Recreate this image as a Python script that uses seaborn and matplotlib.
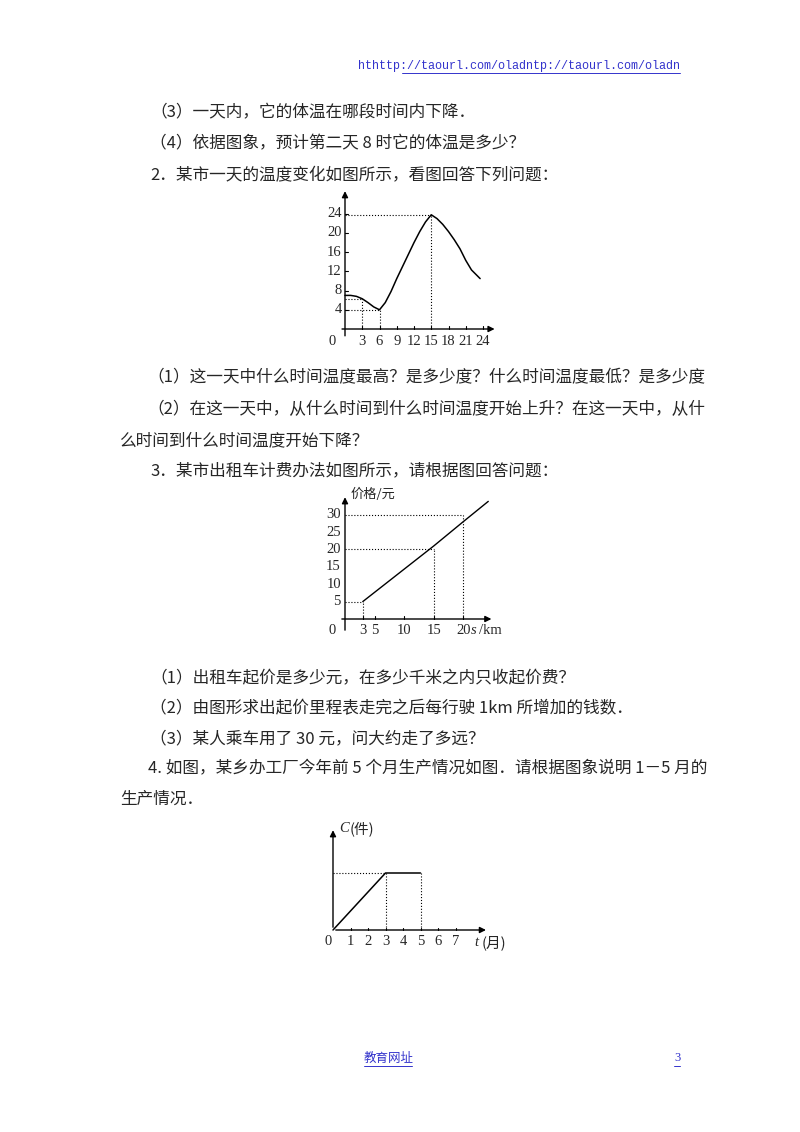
import matplotlib
matplotlib.use("Agg")
import matplotlib.pyplot as plt
import seaborn as sns
import pandas as pd
from matplotlib.lines import Line2D

# --- chart data ---
temp_hours = [0, 1, 2, 3, 4, 5, 6, 7, 8, 9, 10, 11, 12, 13, 14, 15, 16, 17, 18, 19, 20, 21, 22, 23.5]
temp_values = [7, 7, 6.8, 6.3, 5.5, 4.6, 4.0, 5.5, 7.8, 10.5, 13, 15.5, 18, 20.3, 22.3, 23.8,
               23, 21.8, 20.3, 18.6, 16.7, 14.3, 12.3, 10.5]
temp_xticks = [3, 6, 9, 12, 15, 18, 21, 24]
temp_yticks = [4, 8, 12, 16, 20, 24]

taxi_km = [3, 15, 20, 24.2]
taxi_price = [5, 21, 28, 33.8]
taxi_xticks = [3, 5, 10, 15, 20]
taxi_yticks = [5, 10, 15, 20, 25, 30]

month = [0, 3, 5]
output = [0, 1, 1]
month_ticks = [1, 2, 3, 4, 5, 6, 7]

sns.set_style("white")
plt.rcParams['font.family'] = ['Noto Sans CJK SC', 'DejaVu Sans']

W, H = 800, 1132
fig = plt.figure(figsize=(8, 11.32), dpi=100)
SERIF = ['Liberation Serif', 'Noto Sans CJK SC']
FS = 12


def txt(x, y, s, **kw):
    kw.setdefault('fontsize', FS)
    fig.text(x / W, 1 - y / H, s, va='center', **kw)


def uline(x1, x2, y, color):
    fig.add_artist(Line2D([x1 / W, x2 / W], [1 - y / H, 1 - y / H], color=color, lw=0.7))


def place(x0, y0, sx, sy, xlo, xhi, ylo, yhi):
    left, right = x0 + xlo * sx, x0 + xhi * sx
    top, bottom = y0 - yhi * sy, y0 - ylo * sy
    ax = fig.add_axes([left / W, 1 - bottom / H, (right - left) / W, (bottom - top) / H])
    ax.set_xlim(xlo, xhi)
    ax.set_ylim(ylo, yhi)
    ax.axis('off')
    return ax


def axes_arrows(ax, xend, yend, xstart, ystart):
    ap = dict(arrowstyle='-|>', color='black', lw=1.0, mutation_scale=9)
    ax.annotate('', xy=(xend, 0), xytext=(xstart, 0), arrowprops=ap)
    ax.annotate('', xy=(0, yend), xytext=(0, ystart), arrowprops=ap)


def dotted(ax, x, y):
    ax.plot([0, x], [y, y], ls=':', color='black', lw=0.8)
    ax.plot([x, x], [0, y], ls=':', color='black', lw=0.8)


# --- header / text ---
txt(680, 66, 'hthttp://taourl.com/oladntp://taourl.com/oladn', ha='right', fontsize=8.5,
    color='#3333cc', family=['Liberation Mono'])
uline(402, 680, 73, '#3333cc')
txt(150, 113, '（3）一天内，它的体温在哪段时间内下降．')
txt(150, 144, '（4）依据图象，预计第二天 8 时它的体温是多少？')
txt(150, 176, '2．某市一天的温度变化如图所示，看图回答下列问题：')

# --- chart 1: temperature ---
ax1 = place(345, 329, 5.75, 4.8, -5, 27, -5, 29.5)
axes_arrows(ax1, 26.5, 29.3, -1, -2)
sns.lineplot(x=temp_hours, y=temp_values, ax=ax1, color='black', lw=1.1)
ax1.plot([0, 3], [6.3, 6.3], ls=':', color='black', lw=0.8)
ax1.plot([3, 3], [0, 6.3], ls=':', color='black', lw=0.8)
dotted(ax1, 6, 4)
dotted(ax1, 15, 23.8)
for t in temp_xticks:
    ax1.plot([t, t], [0, 0.7], color='black', lw=0.8)
    ax1.text(t, -2.6, str(t), ha='center', va='center', fontsize=10.5, family=SERIF)
for t in temp_yticks:
    ax1.plot([0, 0.5], [t, t], color='black', lw=0.8)
    ax1.text(-0.6, t, str(t), ha='right', va='center', fontsize=10.5, family=SERIF)
ax1.text(-2.3, -2.6, '0', ha='center', va='center', fontsize=10.5, family=SERIF)

txt(147, 378, '（1）这一天中什么时间温度最高？是多少度？什么时间温度最低？是多少度')
txt(147, 410, '（2）在这一天中，从什么时间到什么时间温度开始上升？在这一天中，从什')
txt(120, 441, '么时间到什么时间温度开始下降？')
txt(150, 471, '3．某市出租车计费办法如图所示，请根据图回答问题：')

# --- chart 2: taxi fare ---
ax2 = place(345, 619, 5.92, 3.48, -4, 27, -7, 37)
axes_arrows(ax2, 25.2, 35.8, -1, -4)
sns.lineplot(x=taxi_km, y=taxi_price, ax=ax2, color='black', lw=1.0)
dotted(ax2, 3, 5)
dotted(ax2, 15, 20)
dotted(ax2, 20, 30)
for t in taxi_xticks:
    ax2.plot([t, t], [0, 0.8], color='black', lw=0.8)
    ax2.text(t, -3.3, str(t), ha='center', va='center', fontsize=10.5, family=SERIF)
for t in taxi_yticks:
    ax2.text(-0.7, t, str(t), ha='right', va='center', fontsize=10.5, family=SERIF)
ax2.text(-2.2, -3.3, '0', ha='center', va='center', fontsize=10.5, family=SERIF)
ax2.text(21.3, -3.3, 's', ha='left', va='center', fontsize=10.5, style='italic', family=SERIF)
ax2.text(22.6, -3.3, '/km', ha='left', va='center', fontsize=10.5, family=SERIF)
ax2.text(0.9, 35.8, '价格/元', ha='left', va='center', fontsize=9.5)

txt(150, 679, '（1）出租车起价是多少元，在多少千米之内只收起价费？')
txt(150, 709, '（2）由图形求出起价里程表走完之后每行驶 1km 所增加的钱数．')
txt(150, 739, '（3）某人乘车用了 30 元，问大约走了多远？')
txt(148, 769, '4. 如图，某乡办工厂今年前 5 个月生产情况如图．请根据图象说明 1－5 月的')
txt(120, 799, '生产情况．')

# --- chart 3: production ---
ax3 = place(333, 930, 17.5, 57, -0.8, 10, -0.5, 1.9)
axes_arrows(ax3, 8.9, 1.8, 0, 0)
sns.lineplot(x=month, y=output, ax=ax3, color='black', lw=1.1)
ax3.plot([0, 3], [1, 1], ls=':', color='black', lw=0.8)
ax3.plot([3, 3], [0, 1], ls=':', color='black', lw=0.8)
ax3.plot([5, 5], [0, 1], ls=':', color='black', lw=0.8)
for t in month_ticks:
    ax3.plot([t, t], [0, 0.04], color='black', lw=0.8)
    ax3.text(t, -0.2, str(t), ha='center', va='center', fontsize=10.5, family=SERIF)
ax3.text(-0.3, -0.2, '0', ha='center', va='center', fontsize=10.5, family=SERIF)
ax3.text(8.1, -0.22, 't', ha='left', va='center', fontsize=10.5, style='italic', family=SERIF)
ax3.text(8.5, -0.22, '(月)', ha='left', va='center', fontsize=10.5)
ax3.text(0.35, 1.78, 'C', ha='left', va='center', fontsize=10.5, style='italic', family=SERIF)
ax3.text(0.95, 1.78, '(件)', ha='left', va='center', fontsize=10.5)

# --- footer ---
txt(364, 1058, '教育网址', fontsize=9, color='#3333cc')
uline(364, 412, 1066, '#3333cc')
txt(674, 1058, '3', fontsize=9, color='#3333cc', family=SERIF)
uline(674, 680, 1066, '#3333cc')

fig.savefig('out.png', dpi=100)
